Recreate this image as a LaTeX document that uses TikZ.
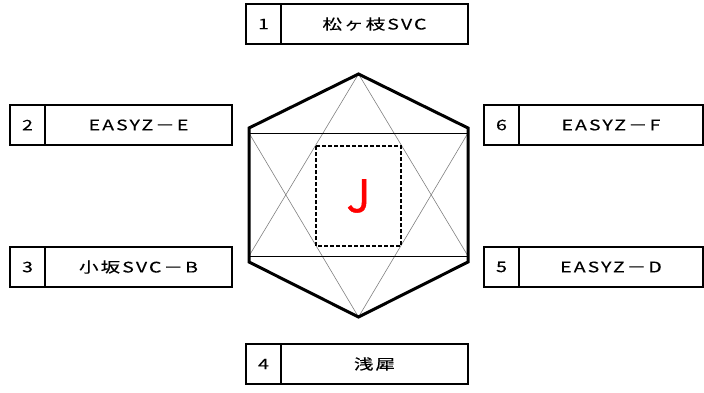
\documentclass[tikz,border=0pt]{standalone}
\usepackage{fontspec}
\setmainfont{Noto Sans CJK JP}
\newfontfamily\boxfont[FakeStretch=1.35, LetterSpace=14, FakeBold=0.15]{Noto Sans CJK JP}
\newfontfamily\corefont[FakeBold=0.9]{Noto Sans CJK JP}
\usetikzlibrary{positioning}

\begin{document}
\begin{tikzpicture}[x=1pt, y=-1pt,
    % --- 样式定义 ---
    numcell/.style={draw, line width=1.6pt, outer sep=0pt, inner sep=0pt,
        minimum width=35pt, minimum height=40pt, anchor=north west,
        font=\boxfont\fontsize{14.5}{16}\selectfont},
    namecell/.style={draw, line width=1.6pt, outer sep=0pt, inner sep=0pt,
        minimum width=187pt, minimum height=40pt,
        font=\boxfont\fontsize{14.5}{16}\selectfont},
    % 六角形 (粗线)
    hexline/.style={line width=3pt, line join=miter},
    % 星形辅助线 (灰色细线)
    starline/.style={gray, line width=0.6pt},
    % 中央方框 (虚线)
    corebox/.style={line width=1.5pt, dash pattern=on 4pt off 2pt}
]
    \useasboundingbox (0,0) rectangle (704,392);

    % =========================================
    % 六个标签框 (编号 + 名称)
    % =========================================
    \node[numcell] (n1) at (246,4) {1};
    \node[namecell, right=0pt of n1] (s1) {松ヶ枝SVC};

    \node[numcell] (n2) at (10,105) {2};
    \node[namecell, right=0pt of n2] (s2) {EASYZ－E};

    \node[numcell] (n3) at (10,247) {3};
    \node[namecell, right=0pt of n3] (s3) {小坂SVC－B};

    \node[numcell] (n4) at (246,344) {4};
    \node[namecell, right=0pt of n4] (s4) {浅犀};

    \node[numcell] (n5) at (484,247) {5};
    \node[namecell, minimum width=184pt, right=0pt of n5] (s5) {EASYZ－D};

    \node[numcell] (n6) at (484,105) {6};
    \node[namecell, minimum width=184pt, right=0pt of n6] (s6) {EASYZ－F};

    % =========================================
    % 中央六角形
    % =========================================
    \coordinate (h1) at (358.5,74);
    \coordinate (h2) at (249,128);
    \coordinate (h3) at (249,262);
    \coordinate (h4) at (358.5,317);
    \coordinate (h5) at (468,262);
    \coordinate (h6) at (468,128);

    % 水平线与侧边的交点
    \coordinate (ul) at (249,133);
    \coordinate (ur) at (468,133);
    \coordinate (ll) at (249,256);
    \coordinate (lr) at (468,256);

    % 1. 星形 (两个三角形)
    \draw[starline] (h1) -- (ll) (h1) -- (lr);
    \draw[starline] (h4) -- (ul) (h4) -- (ur);

    % 2. 两条水平线
    \draw[line width=1pt] (ul) -- (ur);
    \draw[line width=1pt] (ll) -- (lr);

    % 3. 外框
    \draw[hexline] (h1) -- (h2) -- (h3) -- (h4) -- (h5) -- (h6) -- cycle;

    % 4. 中央虚线框与标签
    \draw[corebox] (316,146) rectangle (401,246);
    \node[text=red, font=\corefont\fontsize{45}{48}\selectfont] (core) at (358.5,196) {J};

\end{tikzpicture}
\end{document}
